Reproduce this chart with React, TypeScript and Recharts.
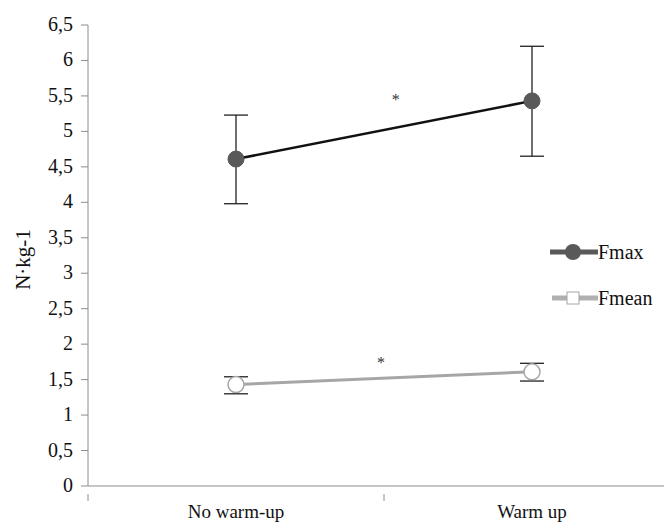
import React from 'react';
import { LineChart, Line, XAxis, YAxis, ErrorBar, ReferenceDot } from 'recharts';

const categories = ['No warm-up', 'Warm up'];
const xPositions = [0.5, 1.5];
const fmax = [4.61, 5.43];
const fmaxLow = [3.98, 4.65];
const fmaxHigh = [5.23, 6.2];
const fmean = [1.43, 1.61];
const fmeanLow = [1.3, 1.48];
const fmeanHigh = [1.54, 1.73];
const yTicks = [0, 0.5, 1, 1.5, 2, 2.5, 3, 3.5, 4, 4.5, 5, 5.5, 6, 6.5];
const xTicks = [0, 0.5, 1, 1.5, 2];
const seriesNames = ['Fmax', 'Fmean'];
const stars = [
  { x: 1.04, y: 5.45 },
  { x: 0.99, y: 1.75 },
];

const data = categories.map((c, i) => ({
  name: c,
  x: xPositions[i],
  fmax: fmax[i],
  fmaxErr: [fmax[i] - fmaxLow[i], fmaxHigh[i] - fmax[i]],
  fmean: fmean[i],
  fmeanErr: [fmean[i] - fmeanLow[i], fmeanHigh[i] - fmean[i]],
}));

const FONT = 'Liberation Serif';

const XTick = (props: any) => {
  const { x, y, payload } = props;
  const v = payload.value;
  const idx = xPositions.indexOf(v);
  if (idx >= 0) {
    return (
      <text x={x} y={y + 24} textAnchor="middle" fontFamily={FONT} fontSize={19} fill="#111">
        {categories[idx]}
      </text>
    );
  }
  return <line x1={x} x2={x} y1={y} y2={y + 7} stroke="#8c8c8c" strokeWidth={1} />;
};

const YTick = (props: any) => {
  const { x, y, payload } = props;
  return (
    <text x={x - 6} y={y + 6} textAnchor="end" fontFamily={FONT} fontSize={20} fill="#111">
      {String(payload.value).replace('.', ',')}
    </text>
  );
};

const YLabel = (props: any) => {
  const vb = props.viewBox || {};
  const cx = 23;
  const cy = (vb.y || 25) + (vb.height || 461) / 2 + 4;
  return (
    <text x={cx} y={cy} transform={`rotate(-90 ${cx} ${cy})`} textAnchor="middle" dominantBaseline="central" fontFamily={FONT} fontSize={21} fill="#111">
      N·kg-1
    </text>
  );
};

const LegendBox = () => (
  <div style={{ position: 'absolute', left: 548, top: 238, width: 124, fontFamily: FONT, fontSize: 20, color: '#111', lineHeight: '28px' }}>
    <div style={{ display: 'flex', alignItems: 'center', height: 28 }}>
      <svg width={50} height={28} style={{ display: 'block' }}>
        <line x1={2} x2={50} y1={14} y2={14} stroke="#595959" strokeWidth={5} />
        <circle cx={25} cy={14} r={8} fill="#595959" />
      </svg>
      <span style={{ fontFamily: FONT }}>{seriesNames[0]}</span>
    </div>
    <div style={{ display: 'flex', alignItems: 'center', height: 28, marginTop: 18 }}>
      <svg width={50} height={28} style={{ display: 'block' }}>
        <line x1={4} x2={50} y1={14} y2={14} stroke="#b0b0b0" strokeWidth={5} />
        <rect x={19} y={8} width={12} height={12} fill="#fff" stroke="#a6a6a6" strokeWidth={1} />
      </svg>
      <span style={{ fontFamily: FONT }}>{seriesNames[1]}</span>
    </div>
  </div>
);

export default function App() {
  return (
    <div style={{ marginLeft: -8, marginTop: -8, width: 672, height: 524, position: 'relative', overflow: 'hidden', background: '#fff' }}>
      <LineChart width={680} height={524} data={data} margin={{ top: 25, right: 0, bottom: 0, left: 0 }}>
        <XAxis
          dataKey="x"
          type="number"
          domain={[0, 2]}
          ticks={xTicks}
          tick={<XTick />}
          tickLine={false}
          stroke="#8c8c8c"
          height={38}
          interval={0}
        />
        <YAxis
          type="number"
          domain={[0, 6.5]}
          ticks={yTicks}
          tick={<YTick />}
          tickSize={7}
          stroke="#8c8c8c"
          width={88}
          interval={0}
          label={<YLabel />}
        />
        <Line
          dataKey="fmax"
          name="Fmax"
          stroke="#111"
          strokeWidth={2.5}
          isAnimationActive={false}
          dot={{ r: 8, fill: '#595959', stroke: '#595959', strokeWidth: 1 }}
          activeDot={false}
        >
          <ErrorBar dataKey="fmaxErr" direction="y" width={12} stroke="#222" strokeWidth={1.3} />
        </Line>
        <Line
          dataKey="fmean"
          name="Fmean"
          stroke="#a6a6a6"
          strokeWidth={3}
          isAnimationActive={false}
          dot={{ r: 8, fill: '#fff', stroke: '#a6a6a6', strokeWidth: 1.5 }}
          activeDot={false}
        >
          <ErrorBar dataKey="fmeanErr" direction="y" width={12} stroke="#222" strokeWidth={1.3} />
        </Line>
        {stars.map((s, i) => (
          <ReferenceDot
            key={i}
            x={s.x}
            y={s.y}
            r={0}
            fill="none"
            stroke="none"
            label={{ value: '*', position: 'center', fontFamily: FONT, fontSize: 16, fill: '#333' }}
          />
        ))}
      </LineChart>
      <LegendBox />
    </div>
  );
}
